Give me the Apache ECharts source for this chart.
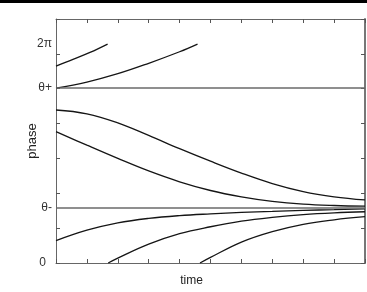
<!DOCTYPE html>
<html>
<head>
<meta charset="utf-8">
<script src="https://cdn.jsdelivr.net/npm/echarts@6/dist/echarts.min.js"></script>
<style>
html,body{margin:0;padding:0;background:#fff;}
#chart{width:367px;height:292px;}
</style>
</head>
<body>
<div id="chart"></div>
<script>
// phase axis landmarks (radians)
const thetaMinus = 1.58;
const thetaPlus = 5.02;
const twoPi = 6.28;
const yLabelValues = [0, thetaMinus, thetaPlus, twoPi];
const yLabelTexts = ['0', 'θ-', 'θ+', '2π'];

// trajectories: [time, phase]
const trajA = [[0,5.65],[0.55,5.84],[1.1,6.04],[1.67,6.28]];
const trajB = [[0,5.02],[1,5.19],[2,5.43],[3,5.73],[4,6.06],[4.58,6.28]];
const trajC = [[0,4.39],[1,4.28],[2,4.02],[3,3.66],[4,3.28],[5,2.92],[6,2.58],[7,2.28],[8,2.05],[9,1.9],[10,1.81]];
const trajD = [[0,3.77],[1,3.38],[2,3.0],[3,2.64],[4,2.33],[5,2.08],[6,1.9],[7,1.77],[8,1.69],[9,1.65],[10,1.63]];
const trajE = [[0,0.64],[1,0.94],[2,1.15],[3,1.28],[4,1.36],[5,1.41],[6,1.45],[7,1.48],[8,1.51],[9,1.53],[10,1.55]];
const trajF = [[1.69,0],[2,0.14],[3,0.54],[4,0.84],[5,1.04],[6,1.2],[7,1.31],[8,1.39],[9,1.44],[10,1.47]];
const trajG = [[4.66,0],[5,0.16],[6,0.6],[7,0.9],[8,1.11],[9,1.24],[10,1.33]];
const trajectories = [trajA, trajB, trajC, trajD, trajE, trajF, trajG];

const font = 'Liberation Sans, Arial, sans-serif';
const chart = echarts.init(document.getElementById('chart'), null, {renderer: 'canvas'});

function axisLine(color, width) { return {show: true, onZero: false, lineStyle: {color: color, width: width}}; }
function ticks() { return {show: true, inside: true, length: 4, lineStyle: {color: '#555', width: 1}}; }

const series = trajectories.map((d, i) => ({
  type: 'line',
  data: d,
  smooth: 0.4,
  symbol: 'none',
  silent: true,
  lineStyle: {color: '#151515', width: 1.3},
  markLine: i === 0 ? {
    symbol: 'none',
    silent: true,
    label: {show: false},
    lineStyle: {color: '#6a6a6a', width: 1.6, type: 'solid'},
    data: [{yAxis: thetaPlus}, {yAxis: thetaMinus}]
  } : undefined
}));

chart.setOption({
  animation: false,
  backgroundColor: '#fff',
  graphic: [{type: 'rect', left: 0, top: 0, shape: {width: 367, height: 3}, style: {fill: '#000'}}],
  grid: {left: 56, right: 2, top: 19, bottom: 29},
  xAxis: [
    {type: 'value', min: 0, max: 10, interval: 1, position: 'bottom',
     name: 'time', nameLocation: 'middle', nameGap: 12, nameMoveOverlap: false,
     nameTextStyle: {fontFamily: font, fontSize: 12, color: '#222', padding: [0, 38, 0, 0]},
     axisLine: axisLine('#666', 1), axisTick: ticks(),
     axisLabel: {show: false}, splitLine: {show: false}},
    {type: 'value', min: 0, max: 10, interval: 1, position: 'top',
     axisLine: axisLine('#666', 1), axisTick: ticks(),
     axisLabel: {show: false}, splitLine: {show: false}}
  ],
  yAxis: [
    {type: 'value', min: 0, max: 7, interval: 1, position: 'left',
     name: 'phase', nameLocation: 'middle', nameGap: 17, nameRotate: 90, nameMoveOverlap: false,
     nameTextStyle: {fontFamily: font, fontSize: 13, color: '#222'},
     axisLine: axisLine('#666', 1), axisTick: ticks(),
     axisLabel: {
       show: true, customValues: yLabelValues, margin: 4,
       fontFamily: font, fontSize: 12, color: '#333',
       formatter: v => {
         const i = yLabelValues.findIndex(x => Math.abs(x - v) < 1e-6);
         return i === 0 ? '{z|0}' : (i >= 0 ? yLabelTexts[i] : '');
       },
       rich: {z: {fontFamily: font, fontSize: 12, color: '#333', padding: [0, 6, 0, 0]}}
     },
     splitLine: {show: false}},
    {type: 'value', min: 0, max: 7, interval: 1, position: 'right',
     axisLine: axisLine('#777', 2), axisTick: ticks(),
     axisLabel: {show: false}, splitLine: {show: false}}
  ],
  series: series
});
</script>
</body>
</html>
